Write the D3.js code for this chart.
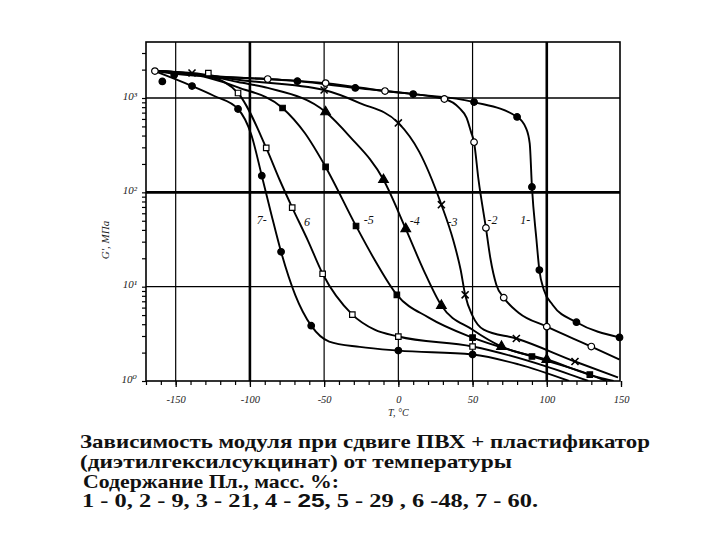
<!DOCTYPE html>
<html><head><meta charset="utf-8">
<script src="https://cdn.jsdelivr.net/npm/d3@7"></script>
<style>body{margin:0;background:#fff}
svg text{font-family:"Liberation Serif","Times New Roman","DejaVu Serif",serif;}
svg text.sans, svg tspan.sans{font-family:"Liberation Sans",Arial,sans-serif;}
</style>
</head><body>
<svg id="c" width="720" height="540" xmlns="http://www.w3.org/2000/svg"></svg>
<script>
// ---------- data ----------
const xTicks = [-150, -100, -50, 0, 50, 100, 150];
const xTickLabels = ["-150", "-100", "-50", "0", "50", "100", "150"];
const yTicks = [1, 10, 100, 1000];
const yTickLabels = ["10⁰", "10¹", "10²", "10³"];
const seriesNames = ["1", "2", "3", "4", "5", "6", "7"];
const plasticizerPct = [0, 9, 21, 25, 29, 48, 60];

// curve points: [temperature °C, G' MPa]
const curve1 = [[-165,1950],[-140,1780],[-110,1650],[-68,1510],[-29,1280],[10,1100],[51,905],[80,630],[86,480],[88.5,330],[90,114],[93,32],[95,15],[98,9.3],[104,6.4],[120,4.2],[149,2.9]];
const marks1 = [[-151,1750],[-68,1510],[-29,1280],[10,1100],[51,905],[80,630],[90,114],[95,15],[120,4.2],[149,2.9]];

const curve2 = [[-165,1950],[-149,1790],[-88,1590],[-49,1440],[-9,1186],[31,976],[41,785],[46,615],[49,435],[51,340],[54,136],[59,42],[62,20],[66,10.5],[71,7.65],[81,5.3],[100,3.77],[130,2.32],[149,1.69]];
const marks2 = [[-164,1930],[-88,1590],[-49,1440],[-9,1186],[31,976],[51,340],[59,42],[71,7.65],[100,3.77],[130,2.32]];

const curve3 = [[-165,1950],[-139,1840],[-108,1560],[-50,1215],[-26,885],[0,544],[14,270],[29,74],[37,31],[42,15],[45,8.2],[50,4.9],[57.5,3.5],[79.5,2.82],[119,1.61],[148,1.09]];
const marks3 = [[-139,1840],[-50,1215],[0,544],[29,74],[45,8.2],[79.5,2.82],[119,1.61]];

const curve4 = [[-165,1950],[-128,1720],[-108,1477],[-88,1280],[-49,711],[-33,395],[-10,136],[5,41],[17,15],[29,6.3],[50,3.5],[69.5,2.32],[100,1.69],[135,1.09],[145,1.0]];
const marks4 = [[-49,711],[-10,136],[5,41],[29,6.3],[69.5,2.32],[100,1.69]];

const curve5 = [[-165,1950],[-128,1640],[-108,1300],[-78,784],[-63,425],[-49,186],[-28.5,44],[-16,19.3],[-1,8.2],[20.5,4.7],[50,2.88],[90,1.82],[129,1.17],[140,1.0]];
const marks5 = [[-78,784],[-49,186],[-28.5,44],[-1,8.2],[50,2.88],[90,1.82],[129,1.17]];

const curve6 = [[-165,1950],[-128,1700],[-108,1130],[-89,296],[-80,136],[-71.5,69],[-61,31],[-51,13.7],[-31,5.06],[-16,3.5],[0,2.96],[50,2.32],[100,1.42],[128,1.0]];
const marks6 = [[-128,1840],[-108,1130],[-89,296],[-71.5,69],[-51,13.7],[-31,5.06],[0,2.96],[50,2.32]];

const curve7 = [[-165,1950],[-139,1340],[-124,1050],[-108,765],[-99,406],[-92,150],[-85.5,58],[-79,23.4],[-69.5,8.2],[-58.7,3.86],[-46.6,2.62],[-26,2.3],[0,2.1],[50,1.91],[81,1.5],[115,1.0]];
const marks7 = [[-159,1500],[-139,1340],[-108,765],[-92,150],[-79,23.4],[-58.7,3.86],[0,2.1],[50,1.91]];

const curves = [curve1, curve2, curve3, curve4, curve5, curve6, curve7];
const marks = [marks1, marks2, marks3, marks4, marks5, marks6, marks7];

// curve number labels (position in data units)
const labelText = ["1-", "-2", "-3", "-4", "-5", "6", "7-"];
const labelT = [85.5, 63.5, 36.5, 11, -20, -61.5, -92];
const labelG = [51, 51, 49, 50, 51, 49, 51];

const captionLines = [
  "Зависимость модуля при сдвиге ПВХ + пластификатор",
  "(диэтилгексилсукцинат)    от температуры",
  "Содержание Пл., масс. %:"
];

// ---------- drawing ----------
const svg = d3.select("#c");
svg.append("rect").attr("width", 720).attr("height", 540).attr("fill", "#fff");

const x = d3.scaleLinear().domain([-170, 150]).range([146, 621]);
const y = d3.scaleLog().domain([1, 3925]).range([381, 42]);

const L = x(-170), R = 620, T = 42, B = 381;

svg.append("defs").append("clipPath").attr("id", "clip")
  .append("rect").attr("x", L).attr("y", T).attr("width", R - L).attr("height", B - T);

// grid
const g = svg.append("g");
xTicks.filter(v => v < 150).forEach(v => {
  g.append("line").attr("x1", x(v)).attr("x2", x(v)).attr("y1", T).attr("y2", B)
    .attr("stroke", "#000").attr("stroke-width", (v === -100 || v === 100) ? 2.6 : 1.2);
});
yTicks.filter(v => v > 1).forEach(v => {
  g.append("line").attr("x1", L).attr("x2", R).attr("y1", y(v)).attr("y2", y(v))
    .attr("stroke", "#000").attr("stroke-width", v === 100 ? 2.6 : 1.3);
});

// frame
svg.append("rect").attr("x", L).attr("y", T).attr("width", R - L).attr("height", B - T)
  .attr("fill", "none").attr("stroke", "#000").attr("stroke-width", 1.6);

// minor ticks on x
const xMinor = d3.range(-170, 151, 10);
svg.append("g").attr("transform", `translate(0,${B})`)
  .call(d3.axisBottom(x).tickValues(xMinor).tickSize(4).tickFormat(""))
  .call(s => s.select(".domain").remove())
  .selectAll("line").attr("stroke-width", 1.2);

// x labels
svg.append("g").attr("transform", `translate(0,${B})`)
  .call(d3.axisBottom(x).tickValues(xTicks).tickSize(6).tickPadding(9).tickFormat((d, i) => xTickLabels[i]))
  .call(s => s.select(".domain").remove())
  .call(s => s.selectAll("line").attr("stroke-width", 1.3))
  .call(s => s.attr("font-family", null))
  .selectAll("text").attr("font-style", "italic")
  .attr("font-size", 10.5).attr("fill", "#222");

// y minor ticks
const yMinor = [];
[1, 10, 100, 1000].forEach(d => { for (let k = 1; k <= 9; k++) { const v = d * k; if (v <= 3925) yMinor.push(v); } });
svg.append("g").attr("transform", `translate(${L},0)`)
  .call(d3.axisLeft(y).tickValues(yMinor).tickSize(4).tickFormat(""))
  .call(s => s.select(".domain").remove())
  .selectAll("line").attr("stroke-width", 1.2);

// y labels
svg.append("g").attr("transform", `translate(${L},0)`)
  .call(d3.axisLeft(y).tickValues(yTicks).tickSize(0).tickPadding(9).tickFormat((d, i) => yTickLabels[i]))
  .call(s => s.select(".domain").remove())
  .call(s => s.attr("font-family", null))
  .selectAll("text").attr("font-style", "italic")
  .attr("font-size", 11).attr("fill", "#222").attr("dy", "0.1em");

// axis titles
svg.append("text").attr("transform", "translate(109,240) rotate(-90)")
  .attr("text-anchor", "middle").attr("font-style", "italic")
  .attr("font-size", 11).attr("fill", "#222").text("G', МПа");
svg.append("text").attr("x", x(0)).attr("y", 416)
  .attr("text-anchor", "middle").attr("font-style", "italic")
  .attr("font-size", 10).attr("fill", "#222").text("T, °C");

// curves
const line = d3.line().x(d => x(d[0])).y(d => y(d[1])).curve(d3.curveMonotoneX);
const pg = svg.append("g").attr("clip-path", "url(#clip)");
curves.forEach(c => {
  pg.append("path").datum(c).attr("d", line).attr("fill", "none")
    .attr("stroke", "#000").attr("stroke-width", 1.9).attr("stroke-linejoin", "round");
});

// markers
const symType = [d3.symbolCircle, d3.symbolCircle, d3.symbolTimes || d3.symbolCross, d3.symbolTriangle, d3.symbolSquare, d3.symbolSquare, d3.symbolCircle];
const symSize = [34, 34, 34, 40, 30, 30, 34];
const symFill = ["#000", "#fff", "none", "#000", "#000", "#fff", "#000"];
const mg = svg.append("g");
marks.forEach((m, i) => {
  mg.selectAll(null).data(m).enter().append("path")
    .attr("transform", d => `translate(${x(d[0])},${y(d[1])})`)
    .attr("d", d3.symbol().type(symType[i]).size(symSize[i]))
    .attr("fill", symFill[i]).attr("stroke", "#000").attr("stroke-width", i === 2 ? 1.6 : 1.2);
});

// curve number labels
seriesNames.forEach((n, i) => {
  svg.append("text").attr("x", x(labelT[i])).attr("y", y(labelG[i]))
    .attr("text-anchor", "middle").attr("dy", "0.35em")
    .attr("font-style", "italic")
    .attr("font-size", 12).attr("fill", "#111").text(labelText[i]);
});

// caption
const cap = svg.append("g").attr("font-weight", "bold")
  .attr("font-size", 19).attr("fill", "#111");
const capY = [448, 468, 488];
const capW = [570, 432, 256];
const capX = [80, 80, 83];
captionLines.forEach((t, i) => {
  cap.append("text").attr("x", capX[i]).attr("y", capY[i])
    .attr("textLength", capW[i]).attr("lengthAdjust", "spacingAndGlyphs").text(t);
});
const leg = cap.append("text").attr("x", 82).attr("y", 507)
  .attr("textLength", 456).attr("lengthAdjust", "spacingAndGlyphs");
seriesNames.forEach((n, i) => {
  const sep = i === 0 ? "" : ",  ";
  const dash = (i === 5) ? " -" : " - ";
  leg.append("tspan").text(sep + n + dash);
  const val = String(plasticizerPct[i]);
  if (i === 3) {
    leg.append("tspan").attr("class", "sans").text(val);
  } else if (i === 4) {
    leg.append("tspan").text(val + " ");
  } else {
    leg.append("tspan").text(val);
  }
});
leg.append("tspan").text(".");
</script>
</body></html>
